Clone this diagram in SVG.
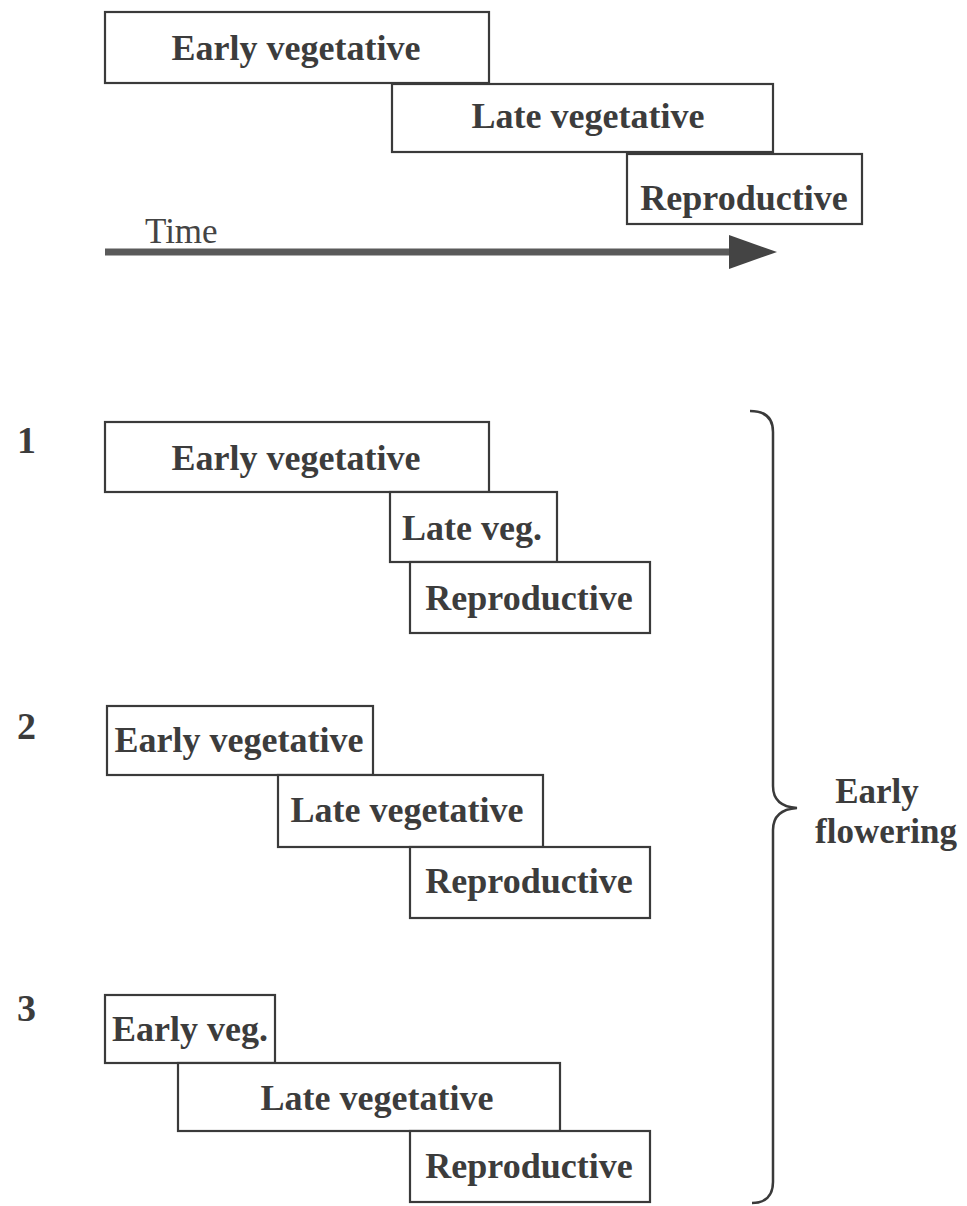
<svg xmlns="http://www.w3.org/2000/svg" width="967" height="1206" viewBox="0 0 967 1206">
<style>
.box{fill:#fff;stroke:#3a3a3a;stroke-width:2.2}
.lbl{font-family:"Liberation Serif","Times New Roman",serif;font-weight:bold;font-size:36px;fill:#3c3c3c;text-anchor:middle}
.side{font-family:"Liberation Serif","Times New Roman",serif;font-weight:bold;font-size:35px;fill:#3c3c3c;text-anchor:middle}
.num{font-family:"Liberation Serif","Times New Roman",serif;font-weight:bold;font-size:38px;fill:#3c3c3c}
.time{font-family:"Liberation Serif","Times New Roman",serif;font-size:35px;fill:#444}
</style>
<rect width="967" height="1206" fill="#fff"/>
<g id="top">
<g id="top-early"><rect class="box" x="105" y="12" width="384" height="71"/><text class="lbl" x="296" y="60">Early vegetative</text></g>
<g id="top-late"><rect class="box" x="392" y="84" width="381" height="68"/><text class="lbl" x="588" y="128">Late vegetative</text></g>
<g id="top-repro"><rect class="box" x="627" y="154" width="235" height="70"/><text class="lbl" x="744" y="210">Reproductive</text></g>
</g>
<g id="connectors">
<line x1="105" y1="252" x2="735" y2="252" stroke="#5a5a5a" stroke-width="7"/>
<polygon points="729,235 777,252 729,269" fill="#444"/>
</g>
<text class="time" x="145" y="243">Time</text>
<g id="row1">
<text class="num" x="17" y="453">1</text>
<g id="r1-early"><rect class="box" x="105" y="422" width="384" height="70"/><text class="lbl" x="296" y="470">Early vegetative</text></g>
<g id="r1-late"><rect class="box" x="390" y="492" width="167" height="70"/><text class="lbl" x="472" y="540">Late veg.</text></g>
<g id="r1-repro"><rect class="box" x="410" y="562" width="240" height="71"/><text class="lbl" x="529" y="610">Reproductive</text></g>
</g>
<g id="row2">
<text class="num" x="17" y="739">2</text>
<g id="r2-early"><rect class="box" x="107" y="706" width="266" height="69"/><text class="lbl" x="239" y="752">Early vegetative</text></g>
<g id="r2-late"><rect class="box" x="278" y="775" width="265" height="72"/><text class="lbl" x="407" y="822">Late vegetative</text></g>
<g id="r2-repro"><rect class="box" x="410" y="847" width="240" height="71"/><text class="lbl" x="529" y="893">Reproductive</text></g>
</g>
<g id="row3">
<text class="num" x="17" y="1021">3</text>
<g id="r3-early"><rect class="box" x="105" y="995" width="170" height="68"/><text class="lbl" x="190" y="1041">Early veg.</text></g>
<g id="r3-late"><rect class="box" x="178" y="1063" width="382" height="68"/><text class="lbl" x="377" y="1110">Late vegetative</text></g>
<g id="r3-repro"><rect class="box" x="410" y="1131" width="240" height="71"/><text class="lbl" x="529" y="1178">Reproductive</text></g>
</g>
<g id="brace">
<path d="M750,411 C765,411 773,418 773,432 L773,786 C773,800 782,807 797,808 C782,809 773,816 773,830 L773,1182 C773,1196 765,1203 752,1203" fill="none" stroke="#3a3a3a" stroke-width="2.5"/>
<text class="side" x="877" y="803">Early</text>
<text class="side" x="886" y="843">flowering</text>
</g>
</svg>
